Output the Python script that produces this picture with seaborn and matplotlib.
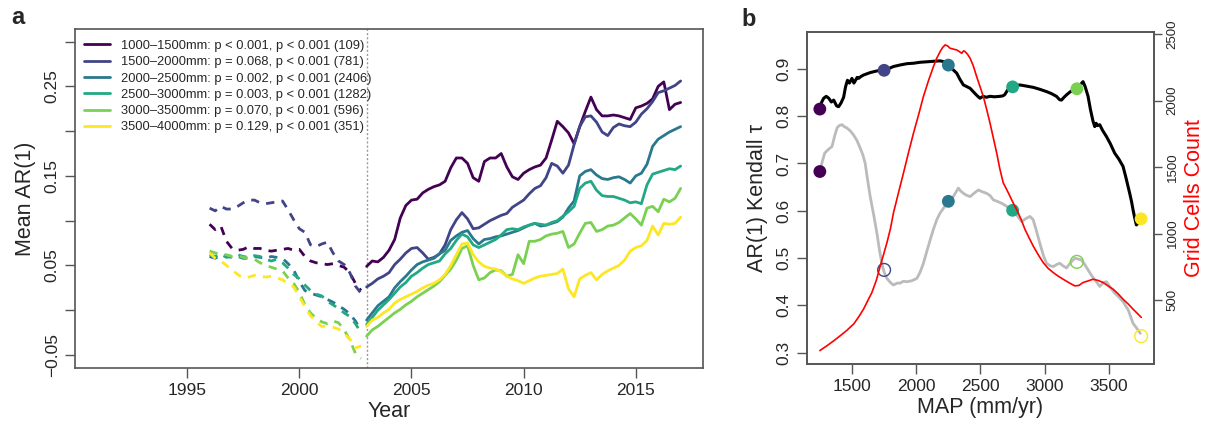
import numpy as np
import pandas as pd
import matplotlib
matplotlib.use("Agg")
import matplotlib.pyplot as plt
from matplotlib.lines import Line2D
import seaborn as sns

# ---------------- panel a: mean AR(1) by precipitation band ----------------
bands = ["1000–1500mm", "1500–2000mm", "2000–2500mm",
         "2500–3000mm", "3000–3500mm", "3500–4000mm"]
band_stats = ["p < 0.001, p < 0.001 (109)", "p = 0.068, p < 0.001 (781)",
              "p = 0.002, p < 0.001 (2406)", "p = 0.003, p < 0.001 (1282)",
              "p = 0.070, p < 0.001 (596)", "p = 0.129, p < 0.001 (351)"]
band_colors = ["#440154", "#414487", "#2A788E", "#22A884", "#7AD151", "#FDE725"]

# quarterly sampling: 1996.00 ... 2002.75 (before 2003) and 2003.00 ... 2017.00
years_pre = 1996 + 0.25 * np.arange(28)
years_post = 2003 + 0.25 * np.arange(57)

ar_pre_1000 = [0.096, 0.090, 0.094, 0.077, 0.069, 0.067, 0.068, 0.071, 0.069, 0.069,
               0.067, 0.066, 0.067, 0.068, 0.069, 0.067, 0.068, 0.060, 0.055, 0.053,
               0.052, 0.051, 0.052, 0.050, 0.048, 0.042, 0.030, 0.022]
ar_pre_1500 = [0.114, 0.111, 0.116, 0.113, 0.113, 0.116, 0.120, 0.123, 0.123, 0.120,
               0.119, 0.120, 0.121, 0.122, 0.112, 0.101, 0.091, 0.087, 0.073, 0.071,
               0.074, 0.076, 0.064, 0.055, 0.051, 0.042, 0.027, 0.019]
ar_pre_2000 = [0.060, 0.058, 0.062, 0.060, 0.059, 0.060, 0.058, 0.058, 0.060, 0.059,
               0.058, 0.060, 0.059, 0.058, 0.052, 0.045, 0.032, 0.022, 0.019, 0.017,
               0.015, 0.012, 0.009, 0.005, 0.001, -0.004, -0.012, -0.022]
ar_pre_2500 = [0.062, 0.060, 0.063, 0.059, 0.061, 0.062, 0.060, 0.059, 0.061, 0.060,
               0.057, 0.055, 0.057, 0.053, 0.047, 0.040, 0.035, 0.028, 0.022, 0.018,
               0.016, 0.010, 0.006, 0.002, -0.003, -0.007, -0.015, -0.025]
ar_pre_3000 = [0.066, 0.064, 0.062, 0.062, 0.060, 0.061, 0.059, 0.058, 0.057, 0.053,
               0.050, 0.048, 0.046, 0.044, 0.036, 0.030, 0.020, 0.006, -0.003, -0.009,
               -0.013, -0.015, -0.012, -0.014, -0.022, -0.033, -0.048, -0.054]
ar_pre_3500 = [0.064, 0.058, 0.055, 0.050, 0.045, 0.040, 0.036, 0.037, 0.039, 0.038,
               0.037, 0.038, 0.036, 0.034, 0.030, 0.026, 0.015, 0.004, -0.006, -0.013,
               -0.018, -0.018, -0.019, -0.021, -0.026, -0.032, -0.042, -0.040]

ar_post_1000 = [0.049, 0.055, 0.054, 0.059, 0.067, 0.079, 0.103, 0.117, 0.123, 0.124,
                0.131, 0.135, 0.138, 0.140, 0.144, 0.159, 0.170, 0.170, 0.164, 0.148,
                0.144, 0.166, 0.170, 0.170, 0.175, 0.160, 0.149, 0.146, 0.153, 0.157,
                0.160, 0.162, 0.170, 0.190, 0.211, 0.205, 0.198, 0.186, 0.205, 0.222,
                0.238, 0.224, 0.217, 0.217, 0.218, 0.217, 0.215, 0.213, 0.226, 0.228,
                0.231, 0.236, 0.250, 0.255, 0.224, 0.230, 0.232]
ar_post_1500 = [0.026, 0.030, 0.035, 0.038, 0.042, 0.051, 0.057, 0.064, 0.069, 0.070,
                0.064, 0.057, 0.059, 0.063, 0.073, 0.090, 0.101, 0.109, 0.102, 0.091,
                0.092, 0.096, 0.100, 0.103, 0.106, 0.108, 0.115, 0.119, 0.123, 0.130,
                0.136, 0.139, 0.148, 0.164, 0.161, 0.153, 0.162, 0.185, 0.205, 0.216,
                0.217, 0.210, 0.199, 0.195, 0.204, 0.208, 0.206, 0.205, 0.210, 0.219,
                0.225, 0.233, 0.243, 0.245, 0.248, 0.251, 0.256]
ar_post_2000 = [-0.011, -0.003, 0.005, 0.010, 0.015, 0.025, 0.032, 0.038, 0.045, 0.051,
                0.054, 0.056, 0.058, 0.063, 0.067, 0.078, 0.083, 0.087, 0.089, 0.080,
                0.074, 0.079, 0.080, 0.082, 0.083, 0.085, 0.087, 0.089, 0.092, 0.095,
                0.097, 0.094, 0.095, 0.097, 0.099, 0.104, 0.114, 0.122, 0.150, 0.155,
                0.157, 0.151, 0.147, 0.146, 0.148, 0.149, 0.146, 0.142, 0.150, 0.153,
                0.163, 0.183, 0.191, 0.195, 0.199, 0.202, 0.205]
ar_post_2500 = [-0.016, -0.008, 0.000, 0.006, 0.012, 0.019, 0.026, 0.031, 0.038, 0.042,
                0.047, 0.051, 0.053, 0.055, 0.063, 0.069, 0.078, 0.085, 0.082, 0.073,
                0.070, 0.073, 0.076, 0.079, 0.084, 0.090, 0.091, 0.090, 0.093, 0.095,
                0.097, 0.096, 0.095, 0.098, 0.100, 0.105, 0.110, 0.116, 0.136, 0.142,
                0.144, 0.134, 0.128, 0.127, 0.127, 0.125, 0.123, 0.120, 0.121, 0.119,
                0.140, 0.152, 0.154, 0.156, 0.158, 0.157, 0.161]
ar_post_3000 = [-0.029, -0.022, -0.018, -0.013, -0.008, -0.003, 0.001, 0.006, 0.010, 0.015,
                0.019, 0.023, 0.027, 0.032, 0.039, 0.046, 0.056, 0.069, 0.072, 0.050,
                0.034, 0.036, 0.042, 0.045, 0.044, 0.038, 0.040, 0.062, 0.052, 0.077,
                0.077, 0.079, 0.083, 0.085, 0.086, 0.088, 0.070, 0.074, 0.086, 0.097,
                0.098, 0.088, 0.090, 0.094, 0.095, 0.098, 0.103, 0.108, 0.102, 0.095,
                0.114, 0.116, 0.110, 0.124, 0.121, 0.125, 0.136]
ar_post_3500 = [-0.018, -0.011, -0.008, -0.003, 0.001, 0.008, 0.012, 0.015, 0.018, 0.021,
                0.025, 0.028, 0.030, 0.034, 0.040, 0.050, 0.062, 0.074, 0.075, 0.062,
                0.054, 0.049, 0.047, 0.046, 0.043, 0.038, 0.035, 0.033, 0.030, 0.033,
                0.036, 0.038, 0.039, 0.040, 0.041, 0.046, 0.024, 0.015, 0.035, 0.039,
                0.042, 0.034, 0.040, 0.044, 0.047, 0.050, 0.056, 0.066, 0.070, 0.072,
                0.078, 0.094, 0.084, 0.097, 0.096, 0.097, 0.104]

pre_series = [ar_pre_1000, ar_pre_1500, ar_pre_2000, ar_pre_2500, ar_pre_3000, ar_pre_3500]
post_series = [ar_post_1000, ar_post_1500, ar_post_2000, ar_post_2500, ar_post_3000, ar_post_3500]

# ---------------- panel b: Kendall tau and grid-cell counts vs MAP ----------------
map_tau_sig = [1250, 1265, 1280, 1300, 1319, 1340, 1358, 1380, 1396, 1415, 1435, 1450,
               1465, 1480, 1500, 1515, 1526, 1540, 1552, 1570, 1590, 1620, 1640, 1668,
               1700, 1746, 1780, 1823, 1870, 1927, 1980, 2030, 2082, 2130, 2186, 2220,
               2250, 2280, 2315, 2340, 2367, 2390, 2419, 2450, 2475, 2496, 2520, 2545,
               2574, 2610, 2652, 2675, 2690, 2710, 2742, 2775, 2807, 2850, 2910, 2960,
               3014, 3050, 3091, 3115, 3130, 3150, 3169, 3200, 3247, 3275, 3298, 3315,
               3337, 3355, 3375, 3389, 3400, 3410, 3428, 3450, 3480, 3510, 3544, 3575,
               3609, 3630, 3661, 3675, 3687, 3700, 3713, 3730, 3744]
tau_sig = [0.820, 0.830, 0.838, 0.842, 0.838, 0.830, 0.834, 0.822, 0.820, 0.828, 0.840, 0.862,
           0.876, 0.870, 0.880, 0.870, 0.875, 0.882, 0.880, 0.884, 0.887, 0.890, 0.892, 0.894,
           0.896, 0.898, 0.900, 0.905, 0.908, 0.911, 0.912, 0.914, 0.915, 0.916, 0.917, 0.915,
           0.908, 0.900, 0.891, 0.878, 0.866, 0.863, 0.859, 0.850, 0.843, 0.838, 0.842, 0.840,
           0.842, 0.841, 0.842, 0.843, 0.846, 0.855, 0.861, 0.865, 0.866, 0.864, 0.861, 0.857,
           0.852, 0.848, 0.842, 0.835, 0.834, 0.840, 0.845, 0.852, 0.859, 0.866, 0.873, 0.862,
           0.842, 0.815, 0.790, 0.778, 0.785, 0.780, 0.782, 0.770, 0.757, 0.742, 0.722, 0.710,
           0.694, 0.672, 0.637, 0.620, 0.602, 0.585, 0.570, 0.575, 0.584]

map_tau_all = [1250, 1270, 1288, 1310, 1326, 1345, 1365, 1384, 1400, 1423, 1440, 1461,
               1490, 1513, 1540, 1565, 1585, 1603, 1620, 1642, 1670, 1694, 1715, 1733,
               1750, 1772, 1800, 1823, 1850, 1875, 1900, 1927, 1965, 2005, 2030, 2056,
               2080, 2108, 2135, 2160, 2185, 2211, 2250, 2270, 2289, 2310, 2328, 2345,
               2367, 2390, 2419, 2450, 2483, 2515, 2548, 2575, 2600, 2630, 2664, 2700,
               2742, 2780, 2820, 2850, 2884, 2900, 2910, 2935, 2962, 2990, 3014, 3040,
               3066, 3090, 3117, 3140, 3169, 3200, 3234, 3260, 3285, 3310, 3337, 3360,
               3389, 3410, 3428, 3455, 3480, 3510, 3544, 3575, 3609, 3650, 3687, 3720,
               3744]
tau_all = [0.683, 0.705, 0.722, 0.728, 0.732, 0.736, 0.758, 0.775, 0.780, 0.782, 0.778, 0.775,
           0.768, 0.760, 0.748, 0.732, 0.718, 0.700, 0.668, 0.630, 0.590, 0.553, 0.515, 0.489,
           0.470, 0.457, 0.448, 0.443, 0.447, 0.447, 0.451, 0.450, 0.452, 0.457, 0.470, 0.489,
           0.512, 0.538, 0.562, 0.581, 0.595, 0.605, 0.620, 0.625, 0.630, 0.640, 0.648, 0.642,
           0.637, 0.633, 0.630, 0.637, 0.644, 0.640, 0.637, 0.632, 0.623, 0.620, 0.616, 0.610,
           0.602, 0.592, 0.577, 0.583, 0.588, 0.584, 0.581, 0.558, 0.531, 0.505, 0.489, 0.484,
           0.482, 0.486, 0.489, 0.484, 0.479, 0.490, 0.500, 0.498, 0.496, 0.487, 0.475, 0.465,
           0.454, 0.447, 0.440, 0.448, 0.450, 0.438, 0.426, 0.418, 0.408, 0.390, 0.362, 0.350,
           0.341]

map_cells = [1250, 1306, 1360, 1409, 1460, 1513, 1550, 1590, 1620, 1655, 1690, 1720, 1745,
             1772, 1800, 1823, 1860, 1901, 1940, 1979, 2020, 2056, 2095, 2134, 2160, 2186,
             2205, 2225, 2245, 2263, 2290, 2315, 2335, 2354, 2368, 2380, 2400, 2419, 2445,
             2470, 2495, 2522, 2548, 2574, 2600, 2626, 2650, 2677, 2705, 2729, 2755, 2781,
             2815, 2846, 2880, 2910, 2950, 2988, 3025, 3066, 3105, 3143, 3190, 3234, 3265,
             3298, 3340, 3376, 3415, 3454, 3495, 3532, 3570, 3609, 3650, 3687, 3720, 3751]
grid_cells = [120, 157, 195, 232, 272, 320, 370, 432, 490, 557, 650, 757, 840,
              932, 1040, 1157, 1300, 1457, 1610, 1757, 1900, 2032, 2150, 2257, 2320, 2370,
              2400, 2420, 2412, 2395, 2388, 2382, 2370, 2357, 2375, 2370, 2348, 2320, 2260,
              2182, 2110, 2032, 1935, 1832, 1720, 1607, 1490, 1382, 1330, 1282, 1230, 1182,
              1110, 1032, 965, 907, 840, 782, 740, 707, 680, 657, 630, 607, 610,
              632, 645, 657, 648, 632, 605, 582, 548, 507, 470, 432, 400, 370]

map_mid = [1250, 1750, 2250, 2750, 3250, 3750]
tau_sig_pts = [0.815, 0.897, 0.908, 0.862, 0.858, 0.583]
tau_all_pts = [0.683, 0.475, 0.620, 0.601, 0.492, 0.335]
tau_all_filled = [True, False, True, True, False, False]

# ---------------- styling ----------------
sns.set_theme(style="ticks")
plt.rcParams["font.family"] = ["Liberation Sans", "DejaVu Sans"]
plt.rcParams["axes.unicode_minus"] = True
frame_color = "#555555"

fig = plt.figure(figsize=(12.24, 4.25), dpi=100)
ax_a = fig.add_axes([0.0613, 0.1341, 0.5131, 0.7976])
ax_b = fig.add_axes([0.6593, 0.1435, 0.2835, 0.7812])

# long-format table for panel a
rows = []
for band, pre, post in zip(bands, pre_series, post_series):
    for yr, v in zip(years_pre, pre):
        rows.append((band, "before", yr, v))
    for yr, v in zip(years_post, post):
        rows.append((band, "after", yr, v))
df_a = pd.DataFrame(rows, columns=["band", "period", "year", "ar1"])
df_a["unit"] = df_a["band"] + df_a["period"]

sns.lineplot(data=df_a, x="year", y="ar1", hue="band", style="period",
             units="unit", estimator=None, palette=dict(zip(bands, band_colors)),
             dashes={"before": (3.0, 2.6), "after": ""}, linewidth=2.0,
             legend=False, sort=True, ax=ax_a)
ax_a.axvline(2003, color="#999999", linestyle=(0, (1.5, 1.5)), linewidth=1.0, zorder=0)

ax_a.set_xlim(1990, 2018.0)
ax_a.set_ylim(-0.0645, 0.314)
ax_a.set_xticks([1995, 2000, 2005, 2010, 2015])
yt = [-0.05, 0.0, 0.05, 0.10, 0.15, 0.20, 0.25, 0.30]
ax_a.set_yticks(yt)
ax_a.set_yticklabels(["−0.05", "", "0.05", "", "0.15", "", "0.25", ""])
ax_a.set_xlabel("Year", fontsize=15.5, labelpad=2)
ax_a.set_ylabel("Mean AR(1)", fontsize=15.5, labelpad=6)

handles = [Line2D([0], [0], color=c, lw=2.0) for c in band_colors]
labels = [f"{b}: {s}" for b, s in zip(bands, band_stats)]
ax_a.legend(handles, labels, loc="upper left", bbox_to_anchor=(0.014, 0.968),
            frameon=False, fontsize=9.3, handlelength=2.0, handletextpad=0.9,
            labelspacing=0.33, borderpad=0, borderaxespad=0)

# panel b
sns.lineplot(x=map_tau_all, y=tau_all, color="#BBBBBB", linewidth=2.0, ax=ax_b)
sns.lineplot(x=map_tau_sig, y=tau_sig, color="black", linewidth=2.2, ax=ax_b)
pts = pd.DataFrame({"map": map_mid, "sig": tau_sig_pts, "all": tau_all_pts,
                    "filled": tau_all_filled, "col": band_colors})
sns.scatterplot(data=pts, x="map", y="sig", hue="col", palette=dict(zip(band_colors, band_colors)),
                s=85, edgecolor="none", legend=False, ax=ax_b, zorder=5)
filled = pts[pts["filled"]]
hollow = pts[~pts["filled"]]
sns.scatterplot(data=filled, x="map", y="all", hue="col",
                palette=dict(zip(filled["col"], filled["col"])),
                s=85, edgecolor="none", legend=False, ax=ax_b, zorder=5)
ax_b.scatter(hollow["map"], hollow["all"], s=85, facecolors="none",
             edgecolors=list(hollow["col"]), linewidths=1.0, zorder=5)

ax_b.set_xlim(1150, 3850)
ax_b.set_ylim(0.276, 0.978)
ax_b.set_xticks([1500, 2000, 2500, 3000, 3500])
ax_b.set_yticks([0.3, 0.4, 0.5, 0.6, 0.7, 0.8, 0.9])
ax_b.set_xlabel("MAP (mm/yr)", fontsize=15.5, labelpad=2)
ax_b.set_ylabel("AR(1) Kendall τ", fontsize=15.5, labelpad=6)

ax_r = ax_b.twinx()
sns.lineplot(x=map_cells, y=grid_cells, color="#FF0000", linewidth=1.2, ax=ax_r)
ax_r.set_ylim(19, 2517)
ax_r.set_yticks([500, 1000, 1500, 2000, 2500])
ax_r.set_ylabel("Grid Cells Count", color="#FF0000", fontsize=15.5, labelpad=4)
ax_r.tick_params(axis="y", labelsize=9.5, length=6, width=1.0, color=frame_color,
                 direction="out", pad=3)
for lab in ax_r.get_yticklabels():
    lab.set_rotation(90)
    lab.set_va("center")
    lab.set_ha("left")

for ax in (ax_a, ax_b):
    ax.tick_params(axis="both", labelsize=12.5, length=7, width=1.0, color=frame_color,
                   direction="out", pad=4)
    for lab in ax.get_yticklabels():
        lab.set_rotation(90)
        lab.set_va("center")
        lab.set_ha("right")
for ax in (ax_a, ax_b, ax_r):
    for sp in ax.spines.values():
        sp.set_visible(True)
        sp.set_color(frame_color)
        sp.set_linewidth(1.2)

fig.text(0.0147, 0.958, "a", fontsize=17, fontweight="bold", ha="center", va="center")
fig.text(0.612, 0.953, "b", fontsize=17, fontweight="bold", ha="center", va="center")

fig.savefig("out.png", dpi=100)
